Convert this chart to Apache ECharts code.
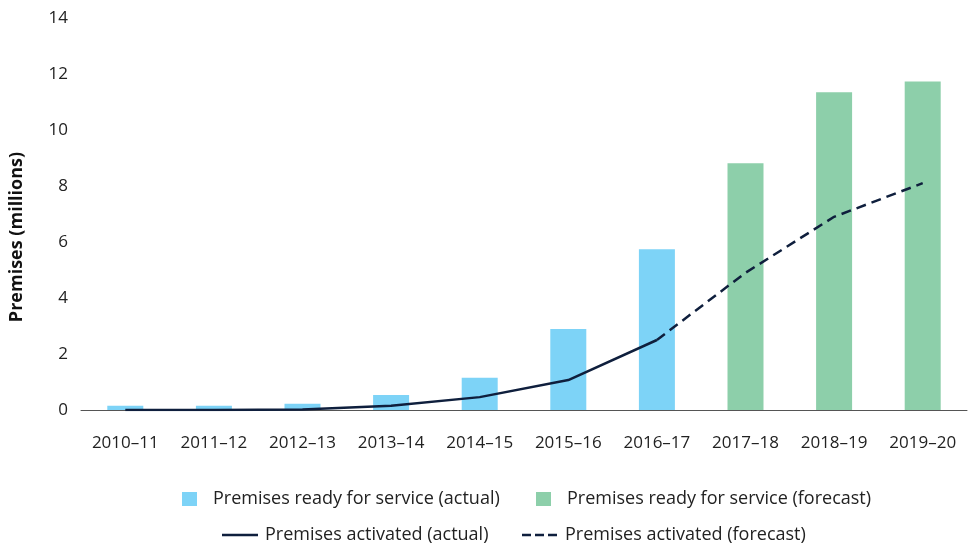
<!DOCTYPE html>
<html>
<head>
<meta charset="utf-8">
<script src="https://cdn.jsdelivr.net/npm/echarts@6/dist/echarts.min.js"></script>
<style>
  html, body { margin: 0; padding: 0; background: #fff; }
  #chart { width: 969px; height: 543px; }
</style>
</head>
<body>
<div id="chart"></div>
<script>
const years = ['2010–11', '2011–12', '2012–13', '2013–14', '2014–15', '2015–16', '2016–17', '2017–18', '2018–19', '2019–20']
const readyActual = [0.15, 0.15, 0.22, 0.54, 1.15, 2.89, 5.74, null, null, null]
const readyForecast = [null, null, null, null, null, null, null, 8.81, 11.35, 11.73]
const activatedActual = [0, 0, 0.02, 0.15, 0.46, 1.07, 2.5, null, null, null]
const activatedForecast = [null, null, null, null, null, null, 2.5, 4.9, 6.9, 8.1]

const font = '"Open Sans", Lato, sans-serif'
const navy = '#0f1f3d'
const textColor = '#222'

// one legend per item so each can sit where the original puts it
const legendItem = (name, left, top, w, h, icon, textPad) => ({
  left: left,
  top: top,
  padding: 0,
  itemWidth: w,
  itemHeight: h,
  textStyle: { fontSize: 18, color: textColor, fontFamily: font, padding: [0, 0, 0, textPad] },
  data: [icon ? { name: name, icon: icon } : name]
})

var chart = echarts.init(document.getElementById('chart'))
var option = {
  animation: false,
  textStyle: { fontFamily: font },
  grid: { left: 81, right: 2, top: 18, bottom: 133 },
  legend: [
    legendItem('Premises ready for service (actual)', 182, 490, 15, 14, 'rect', 11),
    legendItem('Premises ready for service (forecast)', 536, 490, 15, 14, 'rect', 11),
    legendItem('Premises activated (actual)', 222, 526, 36, 10, 'path://M0,4L36,4L36,6.5L0,6.5Z', 2),
    legendItem('Premises activated (forecast)', 522, 526, 35, 10,
      'path://M0,4L9,4L9,6.5L0,6.5ZM13,4L22,4L22,6.5L13,6.5ZM26,4L35,4L35,6.5L26,6.5Z', 3)
  ],
  xAxis: {
    type: 'category',
    data: years,
    axisLine: { lineStyle: { color: '#555', width: 1 } },
    axisTick: { show: false },
    axisLabel: { color: textColor, fontSize: 17, margin: 25, fontFamily: font }
  },
  yAxis: {
    type: 'value',
    min: 0,
    max: 14,
    interval: 2,
    name: 'Premises (millions)',
    nameLocation: 'middle',
    nameGap: 55,
    nameTextStyle: { fontSize: 18, fontWeight: 'bold', color: '#111', fontFamily: font, padding: [0, 46, 0, 0] },
    axisLine: { show: false },
    axisTick: { show: false },
    splitLine: { show: false },
    axisLabel: { color: textColor, fontSize: 17, margin: 13, fontFamily: font }
  },
  series: [
    {
      name: 'Premises ready for service (actual)',
      type: 'bar',
      stack: 'rfs',
      barWidth: 36,
      data: readyActual,
      itemStyle: { color: '#7dd3f7' }
    },
    {
      name: 'Premises ready for service (forecast)',
      type: 'bar',
      stack: 'rfs',
      barWidth: 36,
      data: readyForecast,
      itemStyle: { color: '#8dcfaa' }
    },
    {
      name: 'Premises activated (actual)',
      type: 'line',
      data: activatedActual,
      symbol: 'none',
      itemStyle: { color: navy },
      lineStyle: { color: navy, width: 2.5 }
    },
    {
      name: 'Premises activated (forecast)',
      type: 'line',
      data: activatedForecast,
      symbol: 'none',
      itemStyle: { color: navy },
      lineStyle: { color: navy, width: 2.5, type: [10, 6] }
    }
  ]
}
chart.setOption(option)
</script>
</body>
</html>
